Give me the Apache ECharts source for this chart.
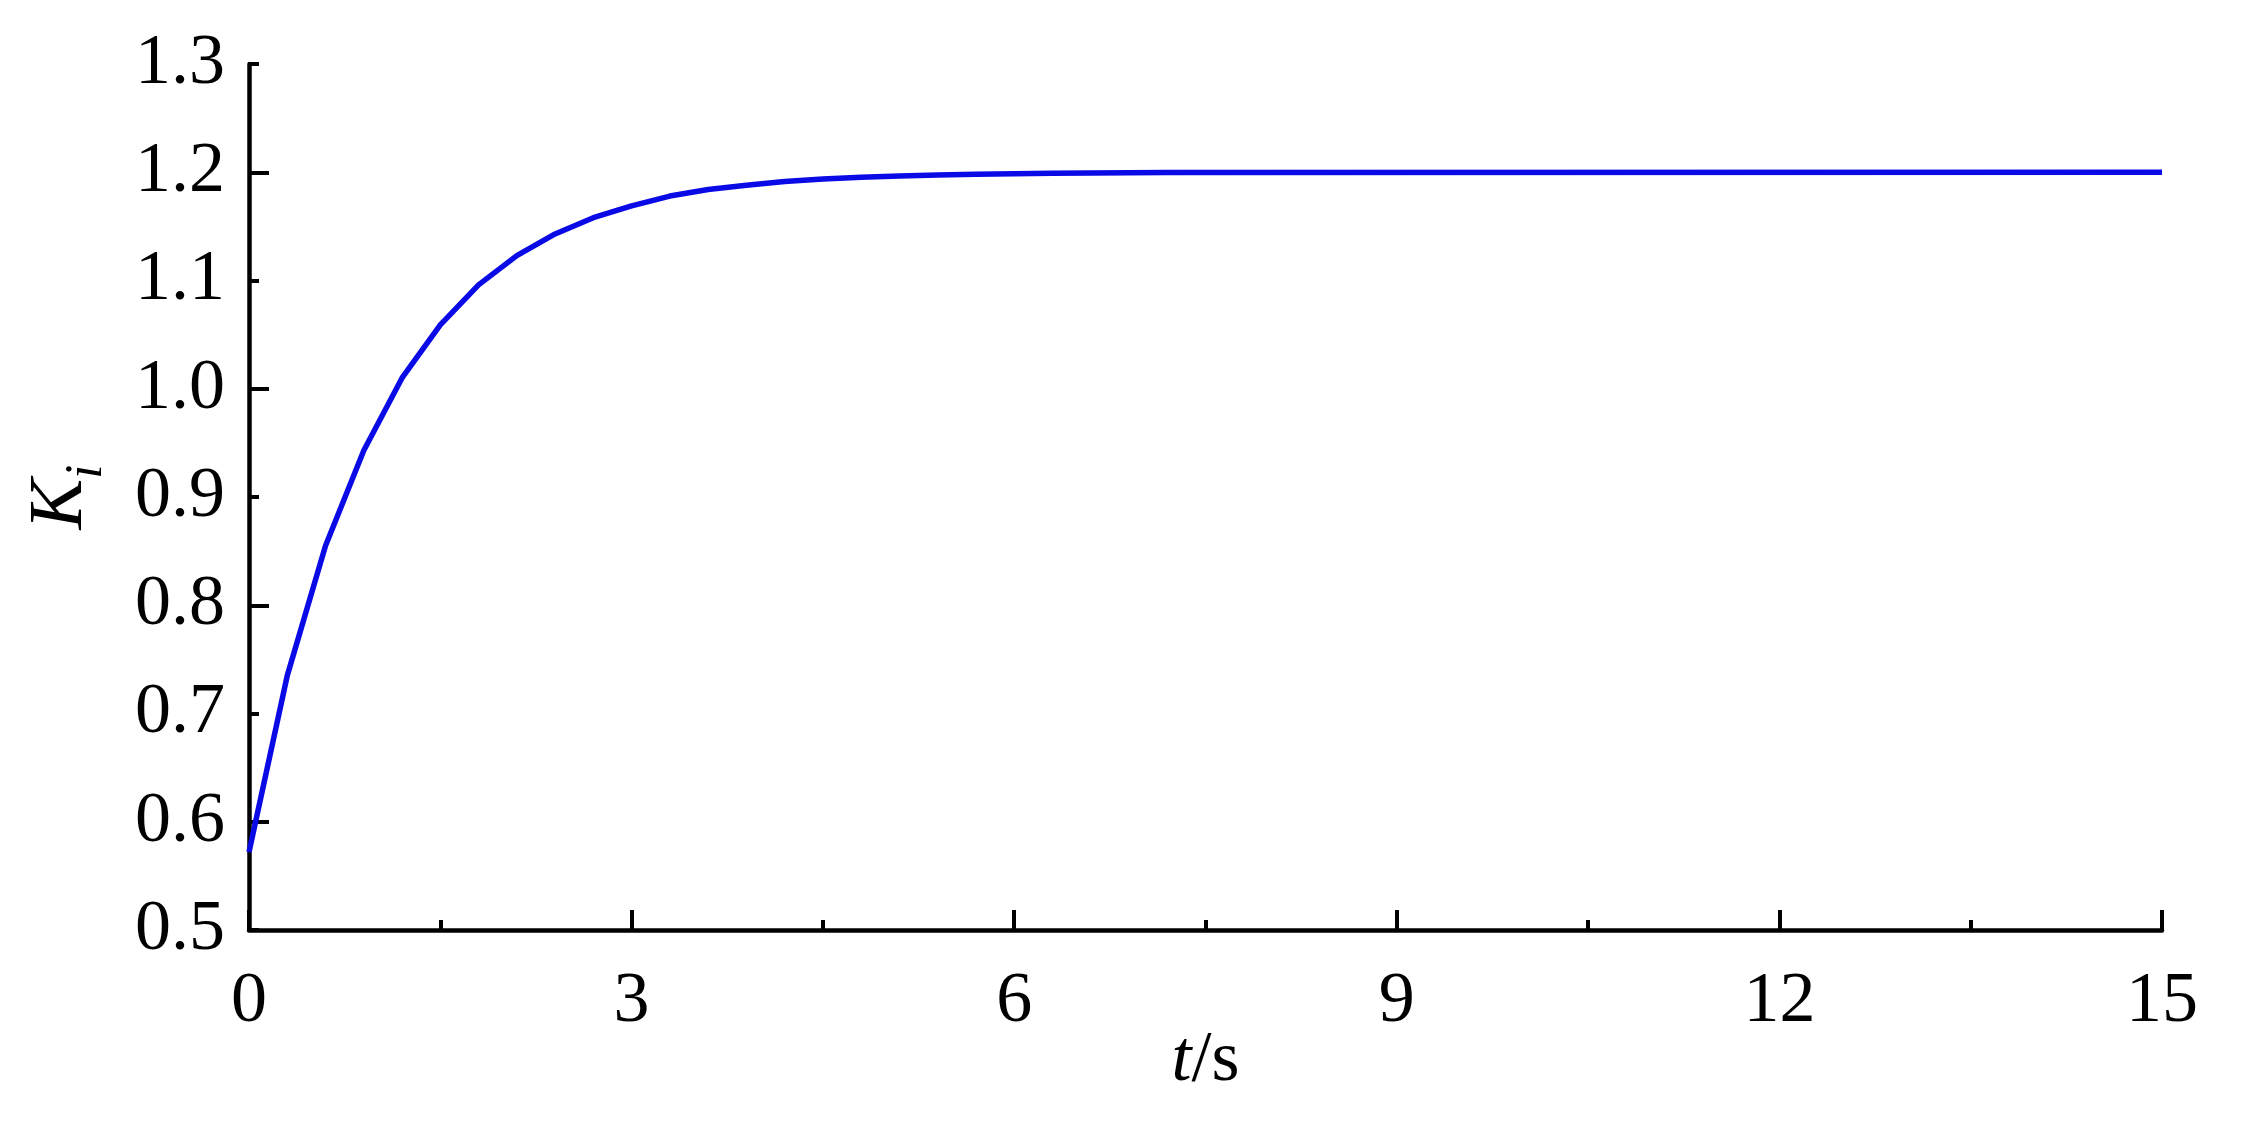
<!DOCTYPE html>
<html>
<head>
<meta charset="utf-8">
<script src="https://cdn.jsdelivr.net/npm/echarts@6/dist/echarts.min.js"></script>
<style>html,body{margin:0;padding:0;background:#fff}#c{width:2241px;height:1136px}</style>
</head>
<body>
<div id="c"></div>
<script>
var tValues = [0,0.3,0.6,0.9,1.2,1.5,1.8,2.1,2.4,2.7,3.0,3.3,3.6,3.9,4.2,4.5,4.8,5.1,5.4,5.7,6.0,6.3,6.6,6.9,7.2,15];
var kValues = [0.572,0.735,0.855,0.943,1.010,1.059,1.096,1.123,1.143,1.158,1.169,1.178,1.184,1.188,1.1915,1.1937,1.1953,1.1966,1.1975,1.1982,1.1987,1.1990,1.1993,1.1995,1.1997,1.2];
var yTickLabels = ['0.5','0.6','0.7','0.8','0.9','1.0','1.1','1.2','1.3'];
var xTickLabels = [0,3,6,9,12,15];

var font = '"Liberation Serif","Times New Roman",serif';
var chart = echarts.init(document.getElementById('c'));
var data = tValues.map(function(t,i){return [t,kValues[i]];});
chart.setOption({
  backgroundColor:'#fff',
  animation:false,
  grid:{left:249,right:79,top:64,bottom:206},
  xAxis:{
    type:'value',min:0,max:15,interval:3,
    axisLine:{lineStyle:{color:'#000',width:4.5}},
    axisTick:{inside:true,length:20,lineStyle:{color:'#000',width:4}},
    minorTick:{show:true,splitNumber:2,length:10,lineStyle:{color:'#000',width:4}},
    splitLine:{show:false},
    axisLabel:{margin:36,fontFamily:font,fontSize:72,color:'#000',
      formatter:function(v){return xTickLabels.indexOf(v)>=0?String(v):'';}},
    name:'{i|t}{r|/s}',nameLocation:'middle',nameGap:95,nameMoveOverlap:false,
    nameTextStyle:{fontFamily:font,fontSize:72,color:'#000',
      rich:{i:{fontFamily:font,fontSize:72,fontStyle:'italic',color:'#000'},r:{fontFamily:font,fontSize:72,color:'#000'}}}
  },
  yAxis:[{
    type:'value',min:0.5,max:1.3,interval:0.1,
    axisLine:{show:true,lineStyle:{color:'#000',width:4.5}},
    axisTick:{show:true,inside:true,length:10,lineStyle:{color:'#000',width:4}},
    splitLine:{show:false},
    axisLabel:{margin:24,fontFamily:font,fontSize:72,color:'#000',
      formatter:function(v){return yTickLabels[Math.round((v-0.5)*10)];}},
    name:'{k|K}{s|i}',nameLocation:'middle',nameGap:150,nameRotate:90,nameMoveOverlap:false,
    nameTextStyle:{fontFamily:font,fontSize:72,color:'#000',
      rich:{k:{fontFamily:font,fontSize:76,fontStyle:'italic',color:'#000',lineHeight:80,verticalAlign:'bottom'},
            s:{fontFamily:font,fontSize:52,fontStyle:'italic',color:'#000',lineHeight:80,verticalAlign:'bottom',padding:[0,0,-14,0]}}}
  },{
    type:'category',position:'left',boundaryGap:false,data:yTickLabels,
    axisLine:{show:false},
    axisTick:{show:true,inside:true,length:20,lineStyle:{color:'#000',width:4},
      interval:function(i){return i%2===1;}},
    axisLabel:{show:false},splitLine:{show:false}
  }],
  series:[{
    type:'line',data:data,yAxisIndex:0,showSymbol:false,symbol:'none',
    lineStyle:{color:'#0a0ae6',width:5.5},clip:false
  }]
});
</script>
</body>
</html>
